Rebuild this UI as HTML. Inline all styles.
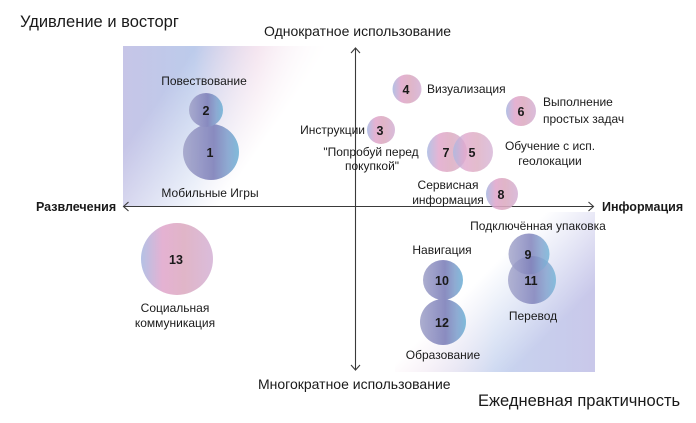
<!DOCTYPE html>
<html><head><meta charset="utf-8"><style>
html,body{margin:0;padding:0;background:#fff;}
svg{display:block;}
text{font-family:"Liberation Sans","DejaVu Sans",sans-serif;fill:#1a1a1a;}
.l{font-size:12px;}
.n{font-size:12.5px;font-weight:bold;}
</style></head><body>
<svg width="696" height="423" viewBox="0 0 696 423" xmlns="http://www.w3.org/2000/svg">
<defs>
  <linearGradient id="tlc" gradientUnits="userSpaceOnUse" x1="123" y1="0" x2="340" y2="0">
    <stop offset="0" stop-color="#c6c5e7"/>
    <stop offset="0.33" stop-color="#bccbeb"/>
    <stop offset="0.62" stop-color="#ecd0e3"/>
    <stop offset="1" stop-color="#ffffff"/>
  </linearGradient>
  <linearGradient id="tlm" gradientUnits="userSpaceOnUse" x1="123" y1="46" x2="262" y2="145">
    <stop offset="0" stop-color="#fff"/>
    <stop offset="0.35" stop-color="#fff"/>
    <stop offset="1" stop-color="#000"/>
  </linearGradient>
  <mask id="tlmask" maskUnits="userSpaceOnUse" x="0" y="0" width="696" height="423">
    <rect x="123" y="46" width="232" height="160" fill="url(#tlm)"/>
  </mask>
  <linearGradient id="brc" gradientUnits="userSpaceOnUse" x1="395" y1="0" x2="594" y2="0">
    <stop offset="0" stop-color="#f2d4e4"/>
    <stop offset="0.5" stop-color="#c7d4ef"/>
    <stop offset="1" stop-color="#c9c8ea"/>
  </linearGradient>
  <linearGradient id="brm" gradientUnits="userSpaceOnUse" x1="594" y1="372" x2="490" y2="268">
    <stop offset="0" stop-color="#fff"/>
    <stop offset="0.4" stop-color="#fff"/>
    <stop offset="1" stop-color="#000"/>
  </linearGradient>
  <mask id="brmask" maskUnits="userSpaceOnUse" x="0" y="0" width="696" height="423">
    <rect x="395" y="212" width="200" height="160" fill="url(#brm)"/>
  </mask>
  <linearGradient id="blue" x1="0" y1="0" x2="1" y2="0">
    <stop offset="0" stop-color="#a5a7cb"/>
    <stop offset="0.3" stop-color="#9294c4"/>
    <stop offset="0.55" stop-color="#8183bb"/>
    <stop offset="0.8" stop-color="#86a4cf"/>
    <stop offset="1" stop-color="#76b6d8"/>
  </linearGradient>
  <linearGradient id="pink" x1="0" y1="0" x2="1" y2="0">
    <stop offset="0" stop-color="#a9b9e2"/>
    <stop offset="0.3" stop-color="#e1a7cc"/>
    <stop offset="0.6" stop-color="#dcabc0"/>
    <stop offset="1" stop-color="#d5b3d6"/>
  </linearGradient>
</defs>

<!-- backgrounds -->
<rect x="123" y="46" width="232" height="160" fill="url(#tlc)" mask="url(#tlmask)"/>
<rect x="395" y="212" width="200" height="160" fill="url(#brc)" mask="url(#brmask)"/>

<!-- axes -->
<g stroke="#3a3a3a" stroke-width="1.1" fill="none">
  <line x1="123.5" y1="206.5" x2="593.5" y2="206.5"/>
  <polyline points="128.5,202 123.5,206.5 128.5,211"/>
  <polyline points="588.5,202 593.5,206.5 588.5,211"/>
  <line x1="355.5" y1="48" x2="355.5" y2="370"/>
  <polyline points="351,53 355.5,48 360,53"/>
  <polyline points="351,365 355.5,370 360,365"/>
</g>

<!-- titles -->
<text x="20" y="27" font-size="16.5">Удивление и восторг</text>
<text x="264" y="36" font-size="14">Однократное использование</text>
<text x="258" y="389" font-size="14">Многократное использование</text>
<text x="478" y="406" font-size="16.5">Ежедневная практичность</text>
<text x="36" y="211" font-size="12.5" font-weight="bold">Развлечения</text>
<text x="602" y="211" font-size="12.5" font-weight="bold">Информация</text>

<!-- blue bubbles -->
<g opacity="0.92">
  <circle cx="211" cy="152" r="28" fill="url(#blue)"/>
  <circle cx="206" cy="110" r="17" fill="url(#blue)"/>
  <circle cx="443" cy="280" r="20" fill="url(#blue)"/>
  <circle cx="443" cy="322" r="23" fill="url(#blue)"/>
</g>
<circle cx="532" cy="280" r="24" fill="url(#blue)" opacity="0.85"/>
<circle cx="529" cy="254" r="20.5" fill="url(#blue)" opacity="0.85"/>

<!-- pink bubbles -->
<g opacity="0.88">
  <circle cx="177" cy="259" r="36" fill="url(#pink)"/>
  <circle cx="381" cy="130" r="14" fill="url(#pink)"/>
  <circle cx="407" cy="89" r="14.5" fill="url(#pink)"/>
  <circle cx="521" cy="111" r="15" fill="url(#pink)"/>
  <circle cx="502" cy="194" r="16" fill="url(#pink)"/>
</g>
<circle cx="447" cy="152" r="20" fill="url(#pink)" opacity="0.85"/>
<circle cx="473" cy="152" r="20" fill="url(#pink)" opacity="0.8"/>

<!-- numbers -->
<g class="n" text-anchor="middle">
  <text class="n" x="210" y="157">1</text>
  <text class="n" x="206" y="115">2</text>
  <text class="n" x="380" y="135">3</text>
  <text class="n" x="406" y="94">4</text>
  <text class="n" x="472" y="157">5</text>
  <text class="n" x="521" y="116">6</text>
  <text class="n" x="446" y="157">7</text>
  <text class="n" x="501" y="199">8</text>
  <text class="n" x="528" y="259">9</text>
  <text class="n" x="442" y="285">10</text>
  <text class="n" x="531" y="285">11</text>
  <text class="n" x="442" y="327">12</text>
  <text class="n" x="176" y="264">13</text>
</g>

<!-- labels -->
<g class="l">
  <text class="l" x="204" y="85" text-anchor="middle">Повествование</text>
  <text class="l" x="210" y="197" text-anchor="middle">Мобильные Игры</text>
  <text class="l" x="365" y="134" text-anchor="end">Инструкции</text>
  <text class="l" x="371" y="156" text-anchor="middle">"Попробуй перед</text>
  <text class="l" x="372" y="170" text-anchor="middle">покупкой"</text>
  <text class="l" x="427" y="93">Визуализация</text>
  <text class="l" x="543" y="106">Выполнение</text>
  <text class="l" x="543" y="123">простых задач</text>
  <text class="l" x="550" y="150" text-anchor="middle">Обучение с исп.</text>
  <text class="l" x="550" y="165" text-anchor="middle">геолокации</text>
  <text class="l" x="448" y="189" text-anchor="middle">Сервисная</text>
  <text class="l" x="448" y="204" text-anchor="middle">информация</text>
  <text class="l" x="538" y="230" text-anchor="middle">Подключённая упаковка</text>
  <text class="l" x="442" y="254" text-anchor="middle">Навигация</text>
  <text class="l" x="533" y="320" text-anchor="middle">Перевод</text>
  <text class="l" x="443" y="359" text-anchor="middle">Образование</text>
  <text class="l" x="175" y="312" text-anchor="middle">Социальная</text>
  <text class="l" x="175" y="327" text-anchor="middle">коммуникация</text>
</g>
</svg>
</body></html>
